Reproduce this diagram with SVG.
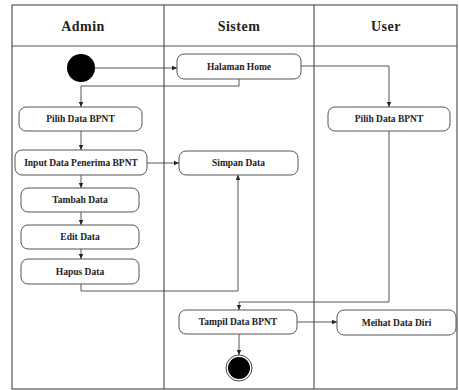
<svg xmlns="http://www.w3.org/2000/svg" width="459" height="390" viewBox="0 0 459 390">
<defs>
<marker id="ah" markerWidth="6" markerHeight="6" refX="5" refY="3" orient="auto" markerUnits="userSpaceOnUse">
<path d="M0,0.8 L5,3 L0,5.2 Z" fill="#222"/>
</marker>
<style>
.lane{fill:none;stroke:#555;stroke-width:1.2}
.hd{font-family:"Liberation Serif",serif;font-weight:bold;font-size:14px;fill:#222;text-anchor:middle;letter-spacing:0.5px}
.box{fill:#fff;stroke:#555;stroke-width:1}
.t{font-family:"Liberation Serif",serif;font-weight:bold;font-size:9.5px;fill:#222;text-anchor:middle}
.c{fill:none;stroke:#444;stroke-width:0.9;marker-end:url(#ah)}
</style>
</defs>
<rect width="459" height="390" fill="#fff"/>
<g id="lanes">
<rect class="lane" x="12" y="5" width="445" height="384"/>
<line class="lane" x1="12" y1="46" x2="457" y2="46"/>
<line class="lane" x1="164" y1="5" x2="164" y2="389"/>
<line class="lane" x1="314" y1="5" x2="314" y2="389"/>
<text class="hd" x="83" y="31">Admin</text>
<text class="hd" x="239" y="31">Sistem</text>
<text class="hd" x="386" y="31">User</text>
</g>
<g id="connectors">
<path class="c" d="M95,68 H177"/>
<path class="c" d="M239,79 V86 H81 V107"/>
<path class="c" d="M301,66 H389 V107"/>
<path class="c" d="M81,131 V150"/>
<path class="c" d="M147,163 H179"/>
<path class="c" d="M81,175 V188"/>
<path class="c" d="M81,212 V225"/>
<path class="c" d="M81,249 V259"/>
<path class="c" d="M81,284 V291 H238 V175"/>
<path class="c" d="M389,131 V302 H239 V310"/>
<path class="c" d="M297,322 H337"/>
<path class="c" d="M239,334 V355"/>
</g>
<g id="start"><circle cx="81" cy="68" r="14" fill="#000"/></g>
<g id="halaman-home"><rect class="box" x="177" y="54" width="124" height="25" rx="7"/><text class="t" x="239" y="70">Halaman Home</text></g>
<g id="pilih-admin"><rect class="box" x="19" y="107" width="123" height="24" rx="7"/><text class="t" x="80.5" y="122">Pilih Data BPNT</text></g>
<g id="pilih-user"><rect class="box" x="328" y="107" width="122" height="24" rx="7"/><text class="t" x="389" y="122">Pilih Data BPNT</text></g>
<g id="input"><rect class="box" x="15" y="150" width="132" height="25" rx="7"/><text class="t" x="81" y="166">Input Data Penerima BPNT</text></g>
<g id="simpan"><rect class="box" x="179" y="151" width="119" height="24" rx="7"/><text class="t" x="238.5" y="166">Simpan Data</text></g>
<g id="tambah"><rect class="box" x="21" y="188" width="118" height="24" rx="7"/><text class="t" x="80" y="203">Tambah Data</text></g>
<g id="edit"><rect class="box" x="21" y="225" width="118" height="24" rx="7"/><text class="t" x="80" y="240">Edit Data</text></g>
<g id="hapus"><rect class="box" x="21" y="259" width="118" height="25" rx="7"/><text class="t" x="80" y="275">Hapus Data</text></g>
<g id="tampil"><rect class="box" x="179" y="310" width="118" height="24" rx="7"/><text class="t" x="238" y="325">Tampil Data BPNT</text></g>
<g id="melihat"><rect class="box" x="337" y="310" width="119" height="25" rx="7"/><text class="t" x="396.5" y="326">Meihat Data Diri</text></g>
<g id="end"><circle cx="239" cy="368" r="13" fill="#fff" stroke="#444" stroke-width="1"/><circle cx="239" cy="368" r="11" fill="#000"/></g>
</svg>
